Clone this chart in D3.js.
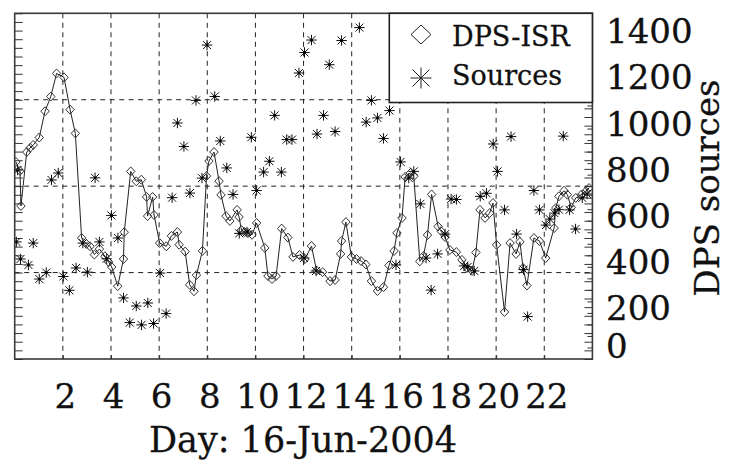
<!DOCTYPE html>
<html>
<head>
<meta charset="utf-8">
<script src="https://cdn.jsdelivr.net/npm/d3@7"></script>
<style>
  body { margin: 0; background: #fff; }
  svg { display: block; }
  text { font-family: "DejaVu Serif", serif; fill: #111; stroke: #111; stroke-width: 0.3; }
</style>
</head>
<body>
<svg id="chart" width="729" height="460"></svg>
<script>
// DPS-ISR samples (hour of day, value)
const isrHours = [0.05,0.22,0.26,0.50,0.64,0.77,1.02,1.26,1.50,1.74,
  2.05,2.30,2.52,2.78,2.98,3.13,3.31,3.52,3.75,3.90,
  4.03,4.28,4.52,4.55,4.82,5.05,5.26,5.48,5.52,5.73,
  5.79,6.02,6.30,6.51,6.76,6.83,7.08,7.27,7.45,7.55,
  7.80,7.97,8.07,8.28,8.49,8.57,8.78,8.94,9.24,9.32,
  9.42,9.55,9.69,9.86,10.05,10.39,10.52,10.69,10.86,11.09,
  11.35,11.56,11.83,12.06,12.33,12.54,12.79,13.10,13.31,13.54,
  13.58,13.76,13.99,14.20,14.39,14.59,14.82,15.07,15.32,15.55,
  15.76,15.88,16.09,16.22,16.44,16.58,16.83,16.98,17.15,17.32,
  17.59,17.71,17.88,18.08,18.35,18.58,18.79,19.00,19.16,19.33,
  19.54,19.73,19.87,20.02,20.35,20.58,20.83,20.99,21.12,21.28,
  21.57,21.80,22.06,22.41,22.48,22.61,22.82,22.96,23.12,23.31,
  23.54,23.72,23.86];
const isrValues = [855,816,664,898,916,929,961,1075,1139,1239,
  1222,1082,979,525,499,489,453,477,446,421,
  399,316,434,550,814,771,778,703,620,703,
  625,503,489,534,551,496,466,322,294,364,
  469,794,859,898,772,712,620,599,647,616,
  560,551,547,539,590,482,360,347,360,566,
  527,443,451,434,490,384,377,338,343,456,
  512,594,443,434,425,410,338,295,312,406,
  469,547,612,790,807,793,424,447,538,714,
  575,555,529,473,464,430,395,382,462,647,
  612,633,677,495,204,503,456,508,395,319,
  525,512,438,568,655,706,730,713,658,699,
  713,728,742];

// Source counts (hour of day, value)
const srcHours = [0.07,0.12,0.24,0.57,0.77,1.02,1.31,1.53,1.81,2.02,
  2.27,2.55,2.83,3.02,3.34,3.52,3.82,4.02,4.29,4.52,
  4.78,5.05,5.27,5.53,5.77,6.04,6.29,6.54,6.76,7.03,
  7.28,7.53,7.78,7.99,8.31,8.54,8.81,9.07,9.33,9.65,
  9.83,10.05,10.34,10.58,10.80,11.08,11.30,11.52,11.81,12.02,
  12.04,12.33,12.52,12.56,12.83,13.07,13.31,13.58,14.32,14.60,
  14.82,15.07,15.32,15.57,15.84,16.03,16.37,16.58,16.85,17.09,
  17.30,17.57,17.88,18.13,18.35,18.67,18.82,19.09,19.34,19.60,
  19.88,20.06,20.35,20.62,20.85,21.14,21.31,21.57,21.80,22.07,
  22.23,22.42,22.61,22.79,23.05,23.30,23.58,23.78];
const srcValues = [508,820,434,408,503,347,375,777,807,358,
  298,395,503,377,786,508,435,623,525,265,
  158,230,148,243,154,373,197,700,1024,922,
  720,1122,785,1362,1139,946,829,714,545,551,
  962,731,811,858,1057,811,952,952,1241,438,
  1330,1384,382,976,1057,1277,987,1382,1438,1028,
  1122,1046,957,1078,408,855,785,814,673,438,
  299,456,542,694,692,404,400,382,706,719,
  933,814,647,965,542,388,184,731,647,581,
  607,633,648,967,647,564,699,716];

const xTickValues = [2,4,6,8,10,12,14,16,18,20,22];
const yTickValues = [0,200,400,600,800,1000,1200,1400];
const seriesNames = ["DPS-ISR", "Sources"];
const xTitle = "Day: 16-Jun-2004";
const yTitle = "DPS sources";

const svg = d3.select("#chart");
const box = { left: 14.7, right: 592.4, top: 13.3, bottom: 359 };

const x = d3.scaleLinear().domain([0, 24]).range([box.left, box.right]);
const y = d3.scaleLinear().domain([0, 1500]).range([box.bottom, box.top]);
// left-hand axis: four grid divisions, ten minor ticks in each
const yLeft = d3.scaleLinear().domain([0, 1]).range([box.bottom, box.top]);

const isr = isrHours.map((h, i) => ({ h, v: isrValues[i] }));
const src = srcHours.map((h, i) => ({ h, v: srcValues[i] }));

svg.append("rect").attr("width", 729).attr("height", 460).attr("fill", "#fff");

svg.append("defs").append("clipPath").attr("id", "plotClip")
  .append("rect")
  .attr("x", box.left).attr("y", box.top)
  .attr("width", box.right - box.left).attr("height", box.bottom - box.top);

// dashed grid
const grid = svg.append("g").attr("stroke", "#222").attr("stroke-width", 1)
  .attr("stroke-dasharray", "5,4.5").attr("fill", "none");
grid.selectAll("line.v").data(xTickValues).join("line").attr("class", "v")
  .attr("x1", d => x(d)).attr("x2", d => x(d))
  .attr("y1", box.top).attr("y2", box.bottom);
grid.selectAll("line.h").data([0.25, 0.5, 0.75]).join("line").attr("class", "h")
  .attr("x1", box.left).attr("x2", box.right)
  .attr("y1", d => yLeft(d)).attr("y2", d => yLeft(d));

const plot = svg.append("g").attr("clip-path", "url(#plotClip)");

// DPS-ISR line with diamond markers
plot.append("path").datum(isr)
  .attr("fill", "none").attr("stroke", "#222").attr("stroke-width", 1)
  .attr("d", d3.line().x(d => x(d.h)).y(d => y(d.v)));

function diamondPath(w, h) {
  return `M0,${-h}L${w},0L0,${h}L${-w},0Z`;
}
function starPath(r, a) {
  return `M${-r},0H${r}M0,${-r}V${r}M${-a},${-a}L${a},${a}M${-a},${a}L${a},${-a}`;
}

plot.selectAll("path.isr").data(isr).join("path").attr("class", "isr")
  .attr("transform", d => `translate(${x(d.h)},${y(d.v)})`)
  .attr("d", diamondPath(4.2, 4.5))
  .attr("fill", "none").attr("stroke", "#333").attr("stroke-width", 1);

const stars = plot.selectAll("g.src").data(src).join("g").attr("class", "src")
  .attr("transform", d => `translate(${x(d.h)},${y(d.v)})`);
stars.append("path").attr("d", starPath(5.2, 4.0))
  .attr("fill", "none").attr("stroke", "#111").attr("stroke-width", 1);
stars.append("circle").attr("r", 1.4).attr("fill", "#000");

// frame
svg.append("rect")
  .attr("x", box.left).attr("y", box.top)
  .attr("width", box.right - box.left).attr("height", box.bottom - box.top)
  .attr("fill", "none").attr("stroke", "#3a3a3a").attr("stroke-width", 1.6);

// left minor ticks, mirrored on the right edge
const leftTicks = d3.range(0, 41).map(i => i / 40);
const leftAxis = svg.append("g").attr("transform", `translate(${box.left},0)`)
  .call(d3.axisRight(yLeft).tickValues(leftTicks).tickSize(8).tickFormat(""));
const mirrorAxis = svg.append("g").attr("transform", `translate(${box.right},0)`)
  .call(d3.axisLeft(yLeft).tickValues(leftTicks).tickSize(8).tickFormat(""));
const rightMinor = svg.append("g").attr("transform", `translate(${box.right},0)`)
  .call(d3.axisLeft(y).tickValues(d3.range(0, 1501, 50)).tickSize(5).tickFormat(""));
[leftAxis, mirrorAxis, rightMinor].forEach(g => {
  g.select(".domain").remove();
  g.selectAll("line").attr("stroke", "#333").attr("stroke-width", 1);
});

// bottom axis
const xAxis = svg.append("g").attr("transform", `translate(0,${box.bottom})`)
  .call(d3.axisBottom(x).tickValues(xTickValues).tickFormat(d3.format("d"))
    .tickSizeInner(-4).tickSizeOuter(0).tickPadding(25));
xAxis.select(".domain").remove();
xAxis.selectAll("line").attr("stroke", "#333");
xAxis.selectAll("text").attr("font-size", 34).attr("font-family", "DejaVu Serif").attr("fill", "#111")
  .attr("dx", 2);

// right axis labels
const yAxis = svg.append("g").attr("transform", `translate(${box.right},0)`)
  .call(d3.axisRight(y).tickValues(yTickValues).tickFormat(d3.format("d"))
    .tickSize(0).tickPadding(13.6));
yAxis.select(".domain").remove();
yAxis.selectAll("text")
  .attr("font-size", 34).attr("font-family", "DejaVu Serif").attr("fill", "#111")
  .attr("dy", null)
  .attr("y", d => Math.min(6.5, box.bottom - 2 - y(d)));

// axis titles
svg.append("text")
  .attr("x", 303).attr("y", 452)
  .attr("text-anchor", "middle").attr("font-size", 35)
  .text(xTitle);
svg.append("text")
  .attr("transform", "translate(719,188) rotate(-90)")
  .attr("text-anchor", "middle").attr("font-size", 34)
  .text(yTitle);

// legend
const lg = svg.append("g");
lg.append("rect")
  .attr("x", 389.3).attr("y", box.top)
  .attr("width", box.right - 389.3).attr("height", 89.2)
  .attr("fill", "#fff").attr("stroke", "#222").attr("stroke-width", 1.6);
lg.append("path").attr("transform", "translate(421,34.5)")
  .attr("d", diamondPath(10, 9.5)).attr("fill", "none").attr("stroke", "#222").attr("stroke-width", 1);
lg.append("path").attr("transform", "translate(421,78)")
  .attr("d", starPath(10.5, 8.5)).attr("fill", "none").attr("stroke", "#222").attr("stroke-width", 1);
lg.selectAll("text.lab").data(seriesNames).join("text").attr("class", "lab")
  .attr("x", 452).attr("y", (d, i) => [45.7, 85][i])
  .attr("font-size", 27)
  .text(d => d);
</script>
</body>
</html>
